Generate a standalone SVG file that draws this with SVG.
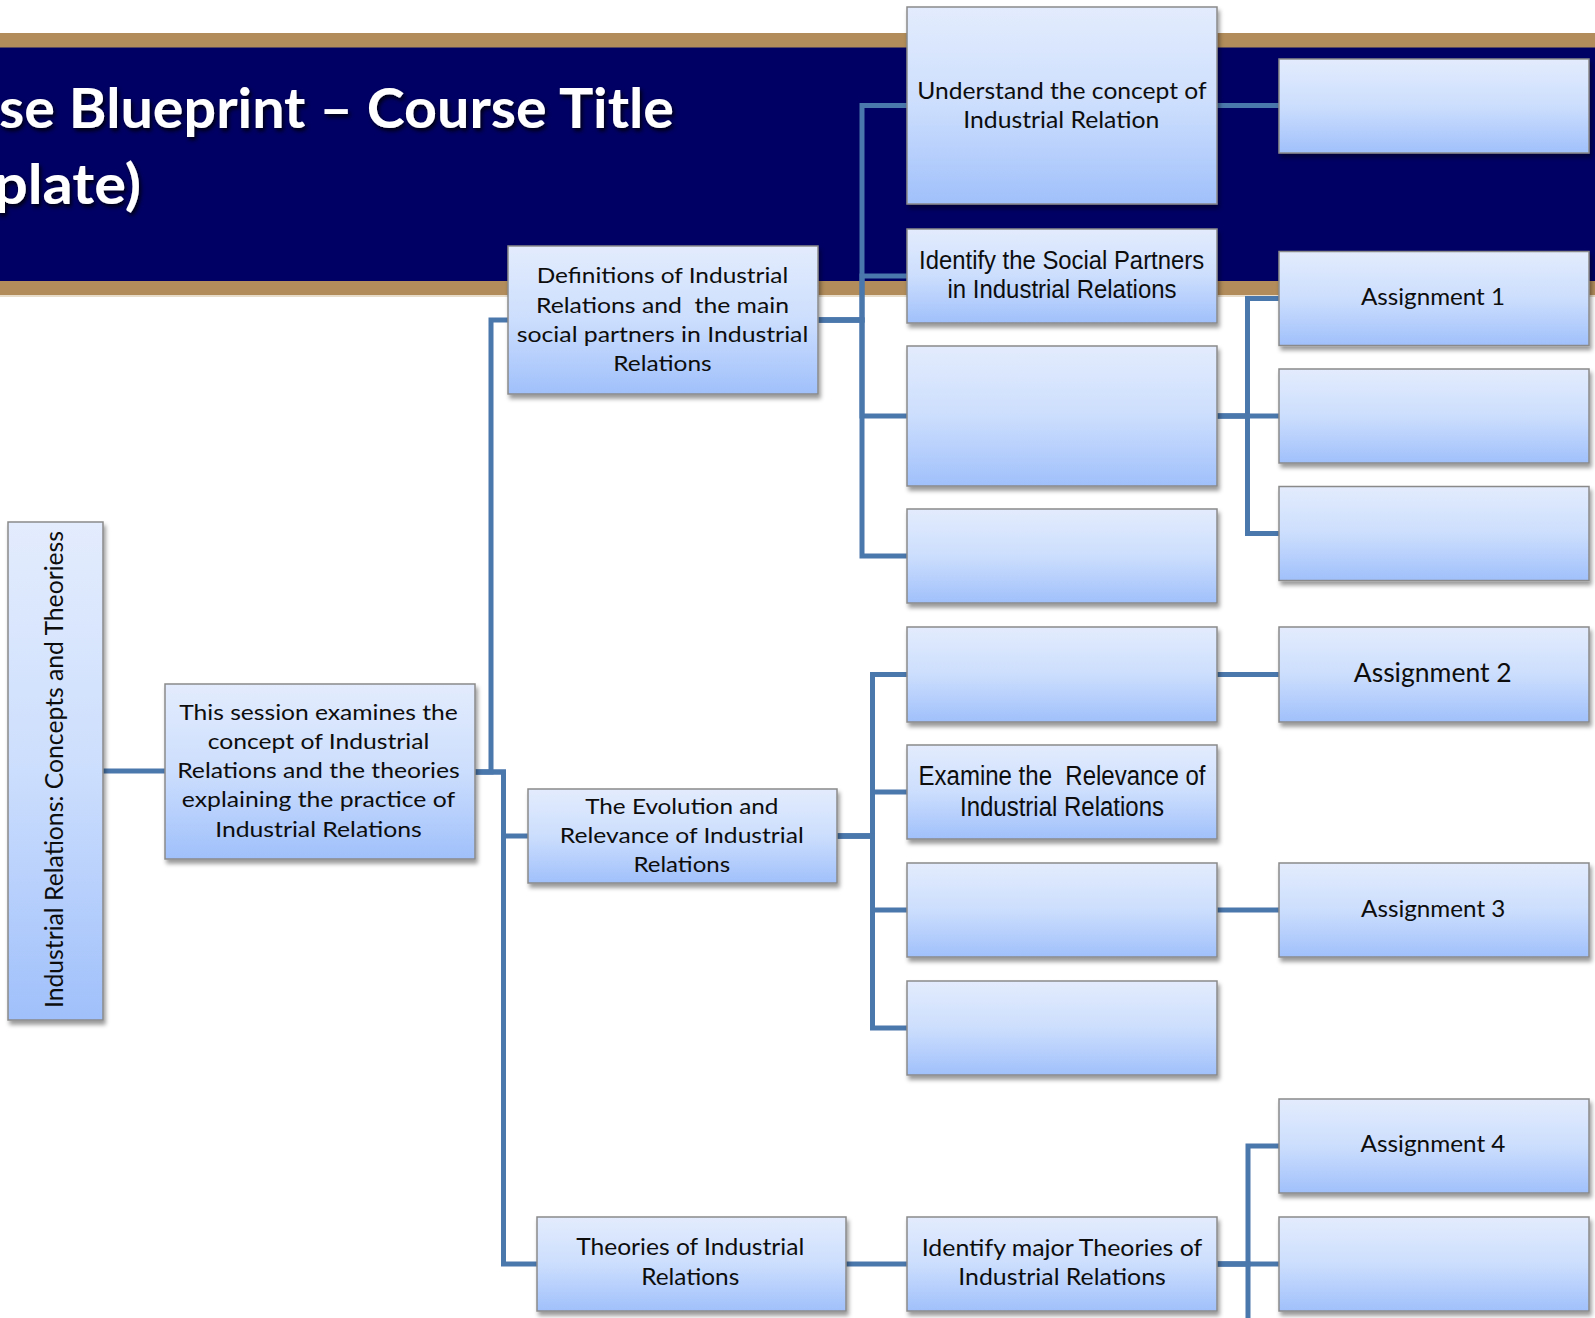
<svg xmlns="http://www.w3.org/2000/svg" width="1595" height="1318" viewBox="0 0 1595 1318">
<defs>
<linearGradient id="bg" x1="0" y1="0" x2="0" y2="1">
<stop offset="0" stop-color="#e3ecfd"/>
<stop offset="0.5" stop-color="#ccdefd"/>
<stop offset="1" stop-color="#a0c0fb"/>
</linearGradient>
<filter id="sh" x="-10%" y="-10%" width="125%" height="130%">
<feDropShadow dx="2" dy="4" stdDeviation="2.2" flood-color="#000" flood-opacity="0.4"/>
</filter>
<filter id="tsh" x="-5%" y="-20%" width="115%" height="150%">
<feDropShadow dx="2" dy="3" stdDeviation="2" flood-color="#000" flood-opacity="0.85"/>
</filter>
</defs>
<style>
.box{fill:url(#bg);stroke:#8a8a8a;stroke-width:1.5;filter:url(#sh)}
.t{font-family:Lato,'Liberation Sans',sans-serif;font-size:22px;fill:#0d0d0d;text-anchor:middle;white-space:pre}
.a{font-family:Lato,'Liberation Sans',sans-serif;font-size:24px;fill:#0d0d0d;text-anchor:middle}
.n{font-family:'Liberation Sans Narrow','Liberation Sans',sans-serif;font-size:26px;fill:#0d0d0d;text-anchor:middle;white-space:pre}
.c{fill:none;stroke:#4a77ac;stroke-width:5}
.title{font-family:Lato,'Liberation Sans',sans-serif;font-weight:bold;font-size:56px;fill:#fff;filter:url(#tsh)}
</style>
<rect x="0" y="0" width="1595" height="1318" fill="#fff"/>
<g id="banner">
<rect x="0" y="33" width="1595" height="262" fill="#b28c5a"/>
<rect x="0" y="47.5" width="1595" height="233.5" fill="#000064"/>
<rect x="0" y="295" width="1595" height="2" fill="#e8dccb"/>
<text class="title" x="-1" y="128" textLength="675" lengthAdjust="spacingAndGlyphs">se Blueprint – Course Title</text>
<text class="title" x="-6" y="204" textLength="147" lengthAdjust="spacingAndGlyphs">plate)</text>
</g>
<g id="connectors">
<path class="c" d="M103,771 H165"/>
<path class="c" d="M475,772 H491 V320 H508"/>
<path class="c" d="M475,772 H503.5 V836 H528"/>
<path class="c" d="M475,772 H503.5 V1264 H537"/>
<path class="c" d="M818,320 H862 V105.5 H907"/>
<path class="c" d="M818,320 H862 V276 H907"/>
<path class="c" d="M818,320 H862 V416 H907"/>
<path class="c" d="M818,320 H862 V556 H907"/>
<path class="c" d="M1217,105.5 H1279"/>
<path class="c" d="M1217,416 H1247.5 V298.5 H1279"/>
<path class="c" d="M1217,416 H1279"/>
<path class="c" d="M1217,416 H1247.5 V533.5 H1279"/>
<path class="c" d="M837,836 H872.5 V674.5 H907"/>
<path class="c" d="M837,836 H872.5 V792 H907"/>
<path class="c" d="M837,836 H872.5 V910 H907"/>
<path class="c" d="M837,836 H872.5 V1028 H907"/>
<path class="c" d="M1217,674.5 H1279"/>
<path class="c" d="M1217,910 H1279"/>
<path class="c" d="M846,1264 H907"/>
<path class="c" d="M1217,1264 H1248 V1146 H1279"/>
<path class="c" d="M1217,1264 H1279"/>
<path class="c" d="M1217,1264 H1248 V1330"/>
</g>
<g id="root">
<rect class="box" x="8" y="522" width="95" height="498"/>
<text class="a" transform="translate(63,769.5) rotate(-90)" x="0" y="0" textLength="477" lengthAdjust="spacingAndGlyphs" style="font-size:24.5px">Industrial Relations: Concepts and Theoriess</text>
</g>
<g id="session">
<rect class="box" x="165" y="684" width="310" height="175"/>
<text class="t" x="318.5" y="719.5" textLength="278.5" lengthAdjust="spacingAndGlyphs">This session examines the</text>
<text class="t" x="318.5" y="748.5" textLength="221.7" lengthAdjust="spacingAndGlyphs">concept of Industrial</text>
<text class="t" x="318.5" y="778" textLength="282.7" lengthAdjust="spacingAndGlyphs">Relations and the theories</text>
<text class="t" x="318.5" y="807" textLength="273.3" lengthAdjust="spacingAndGlyphs">explaining the practice of</text>
<text class="t" x="318.5" y="836.5" textLength="206.7" lengthAdjust="spacingAndGlyphs">Industrial Relations</text>
</g>
<g id="definitions">
<rect class="box" x="508" y="246" width="310" height="148"/>
<text class="t" x="662.5" y="283.3" textLength="251.6" lengthAdjust="spacingAndGlyphs">Definitions of Industrial</text>
<text class="t" x="662.5" y="312.7" textLength="253" lengthAdjust="spacingAndGlyphs" xml:space="preserve">Relations and  the main</text>
<text class="t" x="662.5" y="341.7" textLength="291.6" lengthAdjust="spacingAndGlyphs">social partners in Industrial</text>
<text class="t" x="662.5" y="371" textLength="98.4" lengthAdjust="spacingAndGlyphs">Relations</text>
</g>
<g id="evolution">
<rect class="box" x="528" y="789" width="309" height="94"/>
<text class="t" x="681.8" y="814" textLength="193.3" lengthAdjust="spacingAndGlyphs">The Evolution and</text>
<text class="t" x="681.8" y="843.3" textLength="244" lengthAdjust="spacingAndGlyphs">Relevance of Industrial</text>
<text class="t" x="681.8" y="872.3" textLength="96.7" lengthAdjust="spacingAndGlyphs">Relations</text>
</g>
<g id="theories">
<rect class="box" x="537" y="1217" width="309" height="94"/>
<text class="t" x="690.2" y="1255" textLength="228" lengthAdjust="spacingAndGlyphs" style="font-size:23.5px">Theories of Industrial</text>
<text class="t" x="690.2" y="1285" textLength="98" lengthAdjust="spacingAndGlyphs" style="font-size:23.5px">Relations</text>
</g>
<g id="understand">
<rect class="box" x="907" y="7" width="310" height="197"/>
<text class="t" x="1062" y="99.3" textLength="289.4" lengthAdjust="spacingAndGlyphs" style="font-size:24px">Understand the concept of</text>
<text class="t" x="1061.3" y="128.3" textLength="196" lengthAdjust="spacingAndGlyphs" style="font-size:24px">Industrial Relation</text>
</g>
<g id="identify-social">
<rect class="box" x="907" y="229" width="310" height="94"/>
<text class="n" x="1061.6" y="269" textLength="285" lengthAdjust="spacingAndGlyphs">Identify the Social Partners</text>
<text class="n" x="1062" y="298" textLength="229" lengthAdjust="spacingAndGlyphs">in Industrial Relations</text>
</g>
<g id="blank-a"><rect class="box" x="907" y="346" width="310" height="140"/></g>
<g id="blank-b"><rect class="box" x="907" y="509" width="310" height="94"/></g>
<g id="blank-c"><rect class="box" x="907" y="627" width="310" height="95"/></g>
<g id="examine">
<rect class="box" x="907" y="745" width="310" height="94"/>
<text class="n" x="1062" y="785" textLength="287" lengthAdjust="spacingAndGlyphs" style="font-size:27px" xml:space="preserve">Examine the  Relevance of</text>
<text class="n" x="1062" y="816" textLength="204" lengthAdjust="spacingAndGlyphs" style="font-size:27px">Industrial Relations</text>
</g>
<g id="blank-d"><rect class="box" x="907" y="863" width="310" height="94"/></g>
<g id="blank-e"><rect class="box" x="907" y="981" width="310" height="94"/></g>
<g id="identify-major">
<rect class="box" x="907" y="1217" width="310" height="94"/>
<text class="t" x="1062" y="1255.5" textLength="280.5" lengthAdjust="spacingAndGlyphs" style="font-size:23.5px">Identify major Theories of</text>
<text class="t" x="1062" y="1285" textLength="207.5" lengthAdjust="spacingAndGlyphs" style="font-size:23.5px">Industrial Relations</text>
</g>
<g id="blank-top"><rect class="box" x="1279" y="59" width="310" height="94"/></g>
<g id="assignment-1">
<rect class="box" x="1279" y="251.5" width="310" height="94"/>
<text class="a" x="1433" y="305" textLength="144" lengthAdjust="spacingAndGlyphs">Assignment 1</text>
</g>
<g id="blank-f"><rect class="box" x="1279" y="369" width="310" height="94"/></g>
<g id="blank-g"><rect class="box" x="1279" y="486.5" width="310" height="94"/></g>
<g id="assignment-2">
<rect class="box" x="1279" y="627" width="310" height="95"/>
<text class="a" x="1432.7" y="681.7" textLength="158" lengthAdjust="spacingAndGlyphs" style="font-size:26.5px">Assignment 2</text>
</g>
<g id="assignment-3">
<rect class="box" x="1279" y="863" width="310" height="94"/>
<text class="a" x="1433.2" y="916.7" textLength="144.4" lengthAdjust="spacingAndGlyphs">Assignment 3</text>
</g>
<g id="assignment-4">
<rect class="box" x="1279" y="1099" width="310" height="94"/>
<text class="a" x="1433" y="1152.3" textLength="145" lengthAdjust="spacingAndGlyphs">Assignment 4</text>
</g>
<g id="blank-h"><rect class="box" x="1279" y="1217" width="310" height="94"/></g>
</svg>
